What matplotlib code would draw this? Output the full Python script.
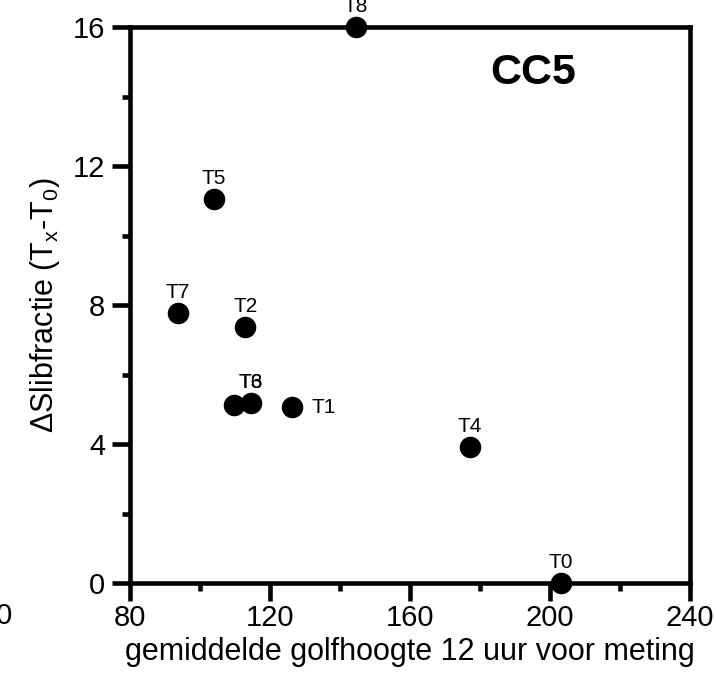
import matplotlib
matplotlib.use("Agg")
import matplotlib.pyplot as plt
from matplotlib.ticker import MultipleLocator

plt.rcParams['font.family'] = ['Liberation Sans', 'DejaVu Sans']
plt.rcParams['mathtext.fontset'] = 'custom'
plt.rcParams['mathtext.rm'] = 'Liberation Sans'
plt.rcParams['mathtext.it'] = 'Liberation Sans'

labels = ["T0", "T1", "T2", "T3", "T4", "T5", "T6", "T7", "T8"]
wave_height = [203.1, 126.3, 112.9, 109.7, 177.1, 104.0, 114.6, 93.7, 144.6]
delta_silt = [0.0, 5.06, 7.37, 5.12, 3.91, 11.05, 5.18, 7.77, 16.0]

fig = plt.figure(figsize=(7.16, 6.92), dpi=100)
ax = fig.add_axes([130 / 716, 1 - 583 / 692, 560 / 716, 556 / 692])

ax.plot(wave_height, delta_silt, 'o', color='black', ms=14.5, clip_on=False, zorder=5)

for name, x, y in zip(labels, wave_height, delta_silt):
    if name == "T1":
        ax.annotate(name, (x, y), xytext=(14, 0), textcoords='offset points',
                    ha='left', va='center', fontsize=15)
    elif name == "T3":
        # label shares the position of the neighbouring T6 label
        ax.annotate(name, (wave_height[6], delta_silt[6]), xytext=(0, 8),
                    textcoords='offset points', ha='center', va='bottom', fontsize=15)
    else:
        ax.annotate(name, (x, y), xytext=(0, 8), textcoords='offset points',
                    ha='center', va='bottom', fontsize=15, annotation_clip=False)

ax.set_xlim(80, 240)
ax.set_ylim(0, 16)
ax.xaxis.set_major_locator(MultipleLocator(40))
ax.xaxis.set_minor_locator(MultipleLocator(20))
ax.yaxis.set_major_locator(MultipleLocator(4))
ax.yaxis.set_minor_locator(MultipleLocator(2))

for s in ax.spines.values():
    s.set_linewidth(3.3)
ax.tick_params(which='major', direction='out', length=13, width=3.3, labelsize=21, pad=5)
ax.tick_params(which='minor', direction='out', length=6, width=3.3)
ax.tick_params(axis='x', which='major', pad=2)

ax.set_xlabel("gemiddelde golfhoogte 12 uur voor meting", fontsize=22, labelpad=4)
ax.set_ylabel(r"$\Delta$Slibfractie (T$_{\mathrm{x}}$-T$_{0}$)", fontsize=22, labelpad=8)

ax.text(0.72, 0.918, "CC5", transform=ax.transAxes, fontsize=31, fontweight='bold',
        ha='center', va='center')

# tick label of the neighbouring panel, cut at the figure edge
fig.text(13 / 716, 1 - 616 / 692, "40", fontsize=21, ha='right', va='center')

fig.savefig("out.png", dpi=100)
